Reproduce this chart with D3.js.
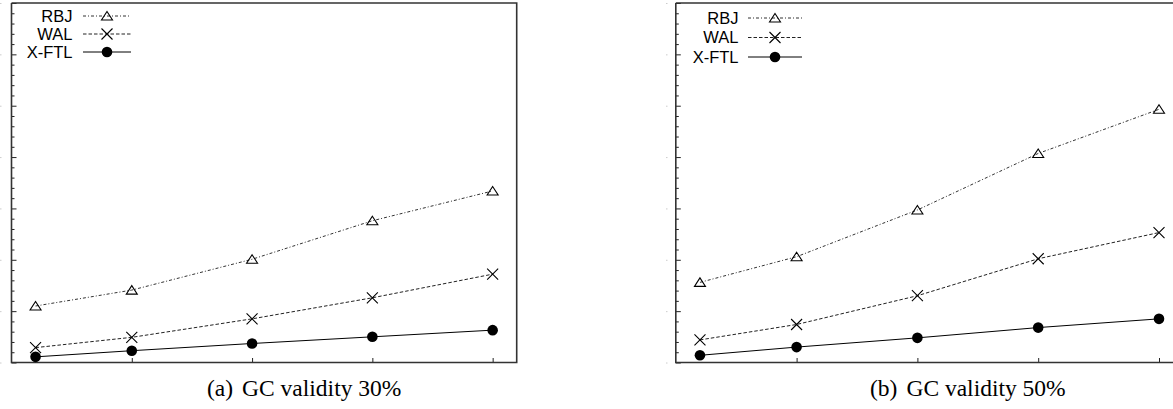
<!DOCTYPE html>
<html>
<head>
<meta charset="utf-8">
<script src="https://cdn.jsdelivr.net/npm/d3@7"></script>
<style>
  html, body { margin: 0; padding: 0; background: #fff; }
  svg { display: block; }
</style>
</head>
<body>
<svg id="chart" width="1173" height="409"></svg>
<script>
// ---- data ----
const xValues = [1, 5, 10, 15, 20];
const xTicks = [5, 10, 15, 20];
const yTicks = [0, 10, 20, 30, 40, 50, 60, 70];
const seriesNames = ["RBJ", "WAL", "X-FTL"];
// panel (a) GC validity 30%
const rbj30 = [11.0, 14.1, 20.1, 27.6, 33.4];
const wal30 = [2.9, 4.9, 8.5, 12.6, 17.2];
const xftl30 = [1.1, 2.3, 3.7, 5.0, 6.3];
// panel (b) GC validity 50%
const rbj50 = [15.6, 20.6, 29.7, 40.7, 49.3];
const wal50 = [4.4, 7.4, 13.0, 20.2, 25.3];
const xftl50 = [1.4, 3.0, 4.8, 6.8, 8.5];
const captions = ["(a)", "(b)"];
const captionTexts = ["GC validity 30%", "GC validity 50%"];

const svg = d3.select("#chart");

const styles = {
  "RBJ":   {stroke: "#333", dash: "3,2,1,2", marker: "tri"},
  "WAL":   {stroke: "#222", dash: "3.5,2",   marker: "x"},
  "X-FTL": {stroke: "#000", dash: null,      marker: "dot"}
};

function drawMarker(g, type, x, y) {
  if (type === "tri") {
    g.append("path")
      .attr("d", `M${x},${y-4.5} L${x+5.5},${y+4} L${x-5.5},${y+4} Z`)
      .attr("fill", "none").attr("stroke", "#000").attr("stroke-width", 1.1);
  } else if (type === "x") {
    g.append("path")
      .attr("d", `M${x-5.5},${y-5.5} L${x+5.5},${y+5.5} M${x-5.5},${y+5.5} L${x+5.5},${y-5.5}`)
      .attr("fill", "none").attr("stroke", "#000").attr("stroke-width", 1.1);
  } else {
    g.append("circle").attr("cx", x).attr("cy", y).attr("r", 5.3).attr("fill", "#000");
  }
}

const panels = [
  {x0: 11.5, x1: 516.7, clipR: 517.5, data: [rbj30, wal30, xftl30],
   legText: 72.5, legL0: 83, legL1: 131, legRows: [16, 34, 52],
   remX: 1.5, capX: 207, id: "a"},
  {x0: 675.8, x1: 675.8 + 21 * 24.16, clipR: 1173, data: [rbj50, wal50, xftl50],
   legText: 738.5, legL0: 748, legL1: 802, legRows: [18, 37.5, 57],
   remX: 667.5, capX: 870, id: "b"}
];

const yTop = 3, yBot = 362.5;

panels.forEach((p, pi) => {
  const x = d3.scaleLinear().domain([0, 21]).range([p.x0, p.x1]);
  const y = d3.scaleLinear().domain([0, 70]).range([yBot, yTop]);
  const g = svg.append("g");

  // faint remnants of the cropped tick labels
  g.append("g").attr("transform", `translate(${p.remX},0)`)
    .call(d3.axisLeft(y).tickValues(yTicks).tickSize(1.5).tickFormat(""))
    .call(s => s.select(".domain").remove())
    .call(s => s.selectAll("line").attr("stroke", "#ccc").attr("stroke-width", 1));

  // minor ticks (left axis, inward)
  const minor = d3.range(0, 70.01, 2).filter(v => v % 10 !== 0);
  g.append("g").attr("transform", `translate(${p.x0},0)`)
    .call(d3.axisRight(y).tickValues(minor).tickSize(3).tickFormat(""))
    .call(s => s.select(".domain").remove())
    .call(s => s.selectAll("line").attr("stroke", "#222").attr("stroke-width", 1));
  // major ticks
  g.append("g").attr("transform", `translate(${p.x0},0)`)
    .call(d3.axisRight(y).tickValues(yTicks).tickSize(5).tickFormat(""))
    .call(s => s.select(".domain").remove())
    .call(s => s.selectAll("line").attr("stroke", "#222").attr("stroke-width", 1));
  // x ticks (bottom, inward)
  g.append("g").attr("transform", `translate(0,${yBot})`)
    .call(d3.axisTop(x).tickValues(xTicks).tickSize(4.5).tickFormat(""))
    .call(s => s.select(".domain").remove())
    .call(s => s.selectAll("line").attr("stroke", "#222").attr("stroke-width", 1));

  // frame
  const right = Math.min(p.x1, p.clipR);
  let d = `M${p.x0},${yTop} L${right},${yTop}`;
  d += (p.x1 <= p.clipR) ? ` L${right},${yBot}` : ` M${right},${yBot}`;
  d += ` L${p.x0},${yBot} L${p.x0},${yTop}`;
  g.append("path").attr("d", d)
    .attr("fill", "none").attr("stroke", "#333").attr("stroke-width", 1.6);

  // series
  const line = d3.line().x((d, i) => x(xValues[i])).y(d => y(d));
  seriesNames.forEach((name, si) => {
    const st = styles[name];
    const vals = p.data[si];
    g.append("path").datum(vals)
      .attr("d", line)
      .attr("fill", "none").attr("stroke", st.stroke).attr("stroke-width", 1)
      .attr("stroke-dasharray", st.dash);
    vals.forEach((v, i) => drawMarker(g, st.marker, x(xValues[i]), y(v)));

    // legend
    const ly = p.legRows[si];
    g.append("text").attr("x", p.legText).attr("y", ly + 5.6)
      .attr("text-anchor", "end")
      .attr("font-family", "Liberation Sans, Arial, sans-serif")
      .attr("font-size", 16.5).attr("fill", "#000").text(name);
    g.append("line").attr("x1", p.legL0).attr("x2", p.legL1)
      .attr("y1", ly).attr("y2", ly)
      .attr("stroke", st.stroke).attr("stroke-width", 1)
      .attr("stroke-dasharray", st.dash);
    drawMarker(g, st.marker, (p.legL0 + p.legL1) / 2, ly);
  });

  // caption
  const cap = svg.append("text")
    .attr("x", p.capX).attr("y", 396)
    .attr("font-family", "Liberation Serif, Times New Roman, serif")
    .attr("font-size", 23.5).attr("fill", "#000");
  cap.append("tspan").text(captions[pi]);
  cap.append("tspan").attr("dx", 9).text(captionTexts[pi]);
});
</script>
</body>
</html>
